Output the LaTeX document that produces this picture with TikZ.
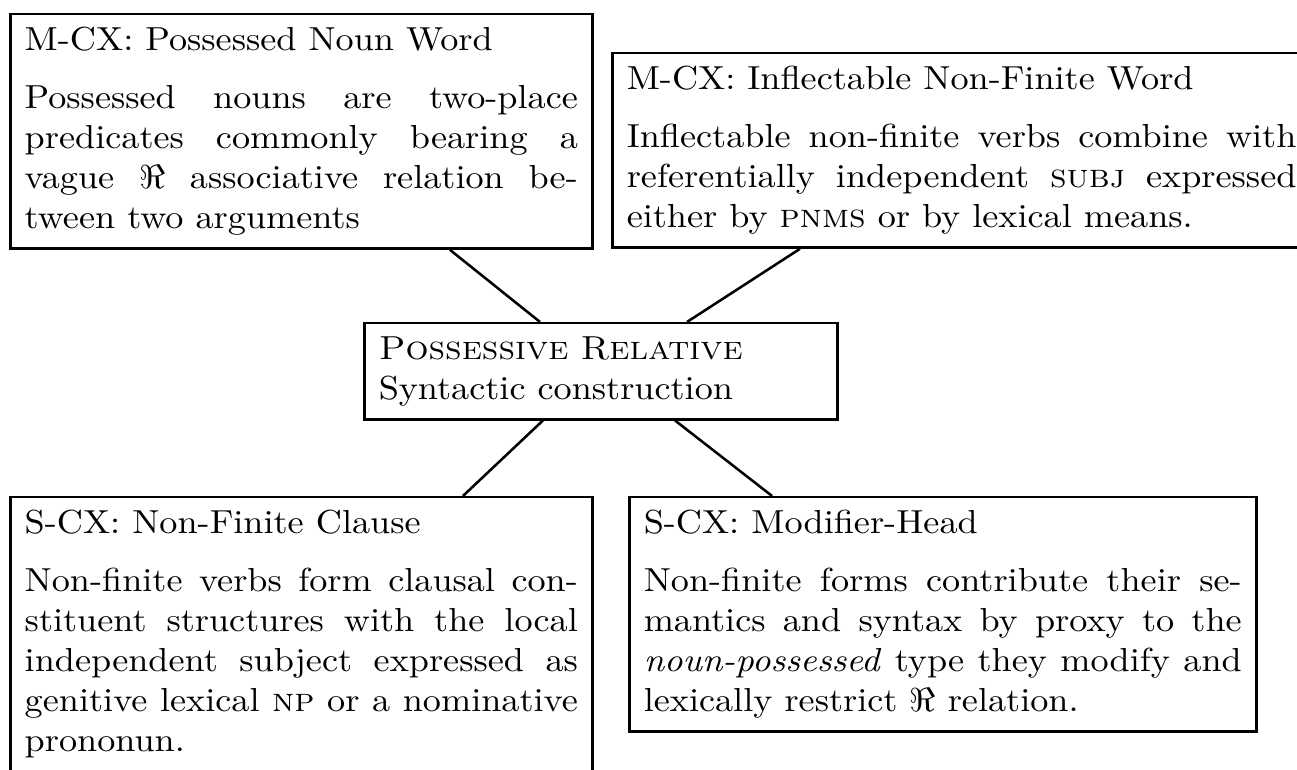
\documentclass[tikz,border=0pt]{standalone}
\usetikzlibrary{calc}
\tikzset{
  cxbox/.style={draw=black, line width=0.7pt, rectangle, anchor=north west,
    align=justify, inner xsep=4pt, inner ysep=4pt, yscale=0.92,
    font=\fontsize{10}{12}\selectfont},
  link/.style={draw=black, line width=0.7pt}
}
\newcommand{\boxtitle}[1]{#1\par\vspace{5.3pt}}
\begin{document}
\begin{tikzpicture}[x=0.276243pt, y=-0.276243pt]
\useasboundingbox (0,0) rectangle (1297,770);
\clip (0,0) rectangle (1297,770);

\node[cxbox, text width=152.8pt] (A) at (9,13)
  {\boxtitle{M-CX: Possessed Noun Word}Possessed nouns are two-place predicates commonly bearing a vague $\Re$ associative relation between two arguments};

\node[cxbox, text width=185pt] (B) at (611,52)
  {\boxtitle{M-CX: Inflectable Non-Finite Word}Inflectable non-finite verbs combine with referentially independent \textsc{subj} expressed either by \textsc{pnms} or by lexical means.};

\node[cxbox, align=left, text width=122.7pt] (C) at (363,322)
  {\textsc{Possessive Relative}\\Syntactic construction};

\node[cxbox, text width=152.8pt] (D) at (9,496)
  {\boxtitle{S-CX: Non-Finite Clause}Non-finite verbs form clausal constituent structures with the local independent subject expressed as genitive lexical \textsc{np} or a nominative prononun.};

\node[cxbox, text width=165.2pt] (E) at (628,496)
  {\boxtitle{S-CX: Modifier-Head}Non-finite forms contribute their semantics and syntax by proxy to the \emph{noun-possessed} type they modify and lexically restrict $\Re$ relation.};

\path[link] ([xshift=121.8pt]A.south west) -- ([xshift=48.9pt]C.north west);
\path[link] ([xshift=52.2pt]B.south west) -- ([xshift=89.5pt]C.north west);
\path[link] ([xshift=49.7pt]C.south west) -- ([xshift=125.4pt]D.north west);
\path[link] ([xshift=86.2pt]C.south west) -- ([xshift=39.8pt]E.north west);
\end{tikzpicture}
\end{document}
